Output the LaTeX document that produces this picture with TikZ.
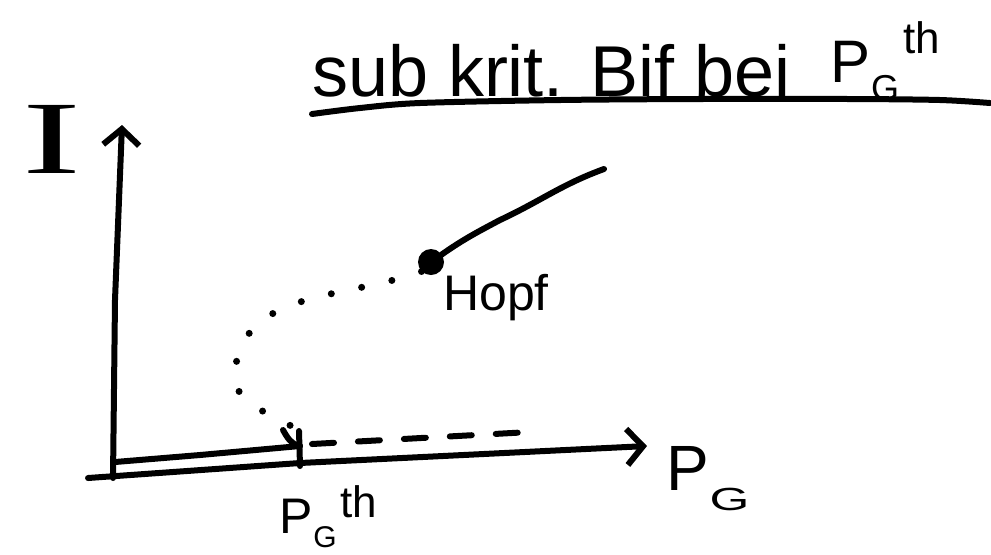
\documentclass[tikz,border=0pt]{standalone}
\usepackage{fontspec}
\setmainfont{Liberation Sans}
\newfontfamily\serifI{Liberation Serif}
\usetikzlibrary{arrows.meta}
\begin{document}
\begin{tikzpicture}[x=0.5pt,y=-0.5pt,
  ink/.style={line width=3pt,line cap=round,line join=round},
  lbl/.style={inner sep=0pt,outer sep=0pt},
  axisarrow/.style={ink,-{Straight Barb[length=8pt,width=18pt,line width=3pt]}},
  dashbranch/.style={ink,dash pattern=on 11pt off 12pt},
  dotbranch/.style={line width=3.5pt,line cap=round,dash pattern=on 0pt off 15.5pt},
  bigtxt/.style={lbl,font=\fontsize{36}{40}\selectfont}]
\useasboundingbox (0,0) rectangle (991,554);

% title
\node[bigtxt,anchor=base west] (title) at (312,96) {sub krit. Bif bei};
\node[lbl,anchor=base west] (tPG) at (830,82)
  {\fontsize{30}{34}\selectfont P\kern0.5pt\raisebox{-9pt}{\fontsize{18}{20}\selectfont G}\kern2pt\raisebox{14.5pt}{\fontsize{22}{24}\selectfont th}};
\coordinate (ul0) at (312,114);
\coordinate (ul1) at (990,103);
\draw[ink] plot[smooth] coordinates {(ul0) (360,108) (420,103) (560,100) (700,99) (850,99) (940,100) (ul1)};

% axes
\coordinate (O) at (113,478);
\coordinate (ytip) at (122,125);
\coordinate (xstart) at (88,478);
\coordinate (xtip) at (647,446);
\draw[axisarrow] (O) -- (115,300) -- (ytip);
\draw[axisarrow] (xstart) -- (300,463) -- (xtip);

% axis labels
\node[lbl,font=\serifI\fontsize{52}{56}\selectfont] (ylab) at (52,139) {\scalebox{1.7}[1]{I}};
\node[lbl,anchor=base west] (xPG) at (666,490)
  {\fontsize{32}{36}\selectfont P\kern0.5pt\raisebox{-10pt}{\fontsize{16}{18}\selectfont\scalebox{1.6}[1]{G}}};

% threshold tick
\coordinate (thtop) at (299,431);
\coordinate (thbot) at (300,466);
\coordinate (thmid) at (300,446);
\draw[ink] (thtop) -- (thbot);
\draw[ink] (283,430) to[out=-60,in=170] (thmid);
\node[lbl,anchor=base west] (thPG) at (279,533)
  {\fontsize{25}{28}\selectfont P\kern0.5pt\raisebox{-7pt}{\fontsize{15}{17}\selectfont G}\kern2pt\raisebox{8pt}{\fontsize{22}{24}\selectfont th}};

% stable branch I = 0
\coordinate (st0) at (115,462);
\draw[ink] (st0) -- (200,455) -- (thmid);
% unstable branch I = 0
\coordinate (dashend) at (530,432);
\draw[dashbranch] (312,444) -- (dashend);

% Hopf point and branches
\node[circle,fill=black,minimum size=13pt,inner sep=0pt] (hopf) at (431,262) {};
\coordinate (limend) at (604,169);
\draw[ink] (hopf) to[out=35,in=208] (500,220) to[out=25,in=200] (limend);
\node[lbl,font=\fontsize{25}{28}\selectfont] (hopflbl) at (496,298) {Hopf};
\coordinate (turn) at (235,372);
\draw[dotbranch] (hopf.south west) to[out=200,in=85] (turn) to[out=-95,in=145] (thtop);
\end{tikzpicture}
\end{document}
